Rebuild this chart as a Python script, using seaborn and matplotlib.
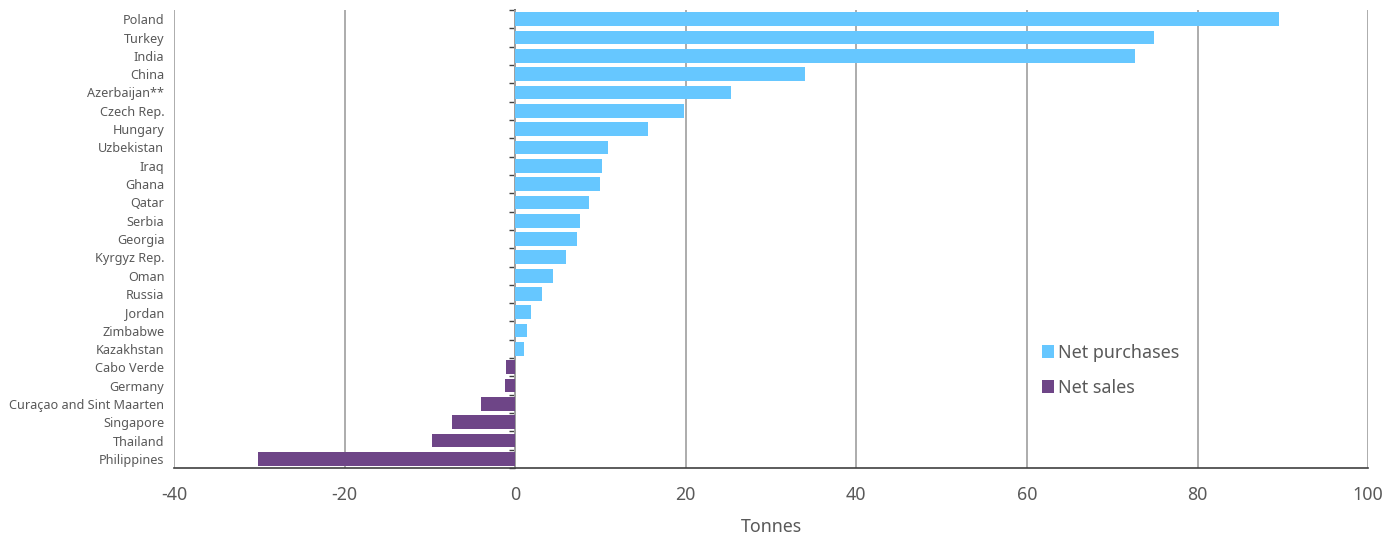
import matplotlib
matplotlib.use("Agg")
import matplotlib.pyplot as plt
import seaborn as sns
import pandas as pd
import numpy as np

countries = ["Poland", "Turkey", "India", "China", "Azerbaijan**", "Czech Rep.",
             "Hungary", "Uzbekistan", "Iraq", "Ghana", "Qatar", "Serbia", "Georgia",
             "Kyrgyz Rep.", "Oman", "Russia", "Jordan", "Zimbabwe", "Kazakhstan",
             "Cabo Verde", "Germany", "Curaçao and Sint Maarten", "Singapore",
             "Thailand", "Philippines"]
tonnes = [89.6, 74.9, 72.7, 34.0, 25.3, 19.8, 15.6, 10.9, 10.2, 10.0, 8.7, 7.6, 7.2,
          6.0, 4.4, 3.2, 1.8, 1.4, 1.0, -1.1, -1.2, -4.0, -7.4, -9.7, -30.2]
series_names = ["Net purchases", "Net sales"]
colors = ["#66C7FF", "#6E4587"]
x_ticks = [-40, -20, 0, 20, 40, 60, 80, 100]

df = pd.DataFrame({
    "country": countries,
    "tonnes": tonnes,
    "type": [series_names[0] if v >= 0 else series_names[1] for v in tonnes],
})

sns.set_theme(style="white")
plt.rcParams["font.family"] = ["Noto Sans", "DejaVu Sans"]
text_color = "#595959"

fig = plt.figure(figsize=(14, 5.35), dpi=100)
ax = fig.add_axes([0.1243, 0.1252, 0.8529, 0.856])

sns.barplot(data=df, x="tonnes", y="country", hue="type", hue_order=series_names,
            palette=colors, dodge=False, width=0.75, orient="h", ax=ax,
            saturation=1, linewidth=0)

ax.set_xlim(-40, 100)
ax.set_ylim(24.5, -0.5)
ax.set_xticks(x_ticks)
ax.set_xticklabels([str(t) for t in x_ticks], fontsize=12.8, color=text_color)
ax.tick_params(axis="x", length=0, pad=13)
ax.tick_params(axis="y", length=0, pad=7, labelsize=9.1, labelcolor=text_color)
ax.set_ylabel("")
ax.set_xlabel("Tonnes", fontsize=12.8, color=text_color, labelpad=10)

ax.grid(axis="x", color="#A6A6A6", linewidth=1.3)
ax.grid(axis="y", visible=False)
ax.set_axisbelow(True)
for s in ["left", "right", "top"]:
    ax.spines[s].set_visible(False)
ax.spines["bottom"].set_color("#404040")
ax.spines["bottom"].set_linewidth(1.2)

sec = ax.secondary_yaxis(40 / 140)
sec.set_yticks(np.arange(-0.5, len(countries), 1.0))
sec.set_yticklabels([])
sec.tick_params(axis="y", length=4, width=1.0, color="#404040", direction="out")
sec.spines["left"].set_color("#404040")
sec.spines["left"].set_linewidth(1.2)

sns.move_legend(ax, "center left", bbox_to_anchor=(0.713, 0.213), frameon=False,
                title=None, fontsize=12.9, handlelength=0.7, handleheight=0.7,
                handletextpad=0.2, labelspacing=0.95)
for t in ax.get_legend().get_texts():
    t.set_color(text_color)

fig.savefig("out.png", dpi=100)
